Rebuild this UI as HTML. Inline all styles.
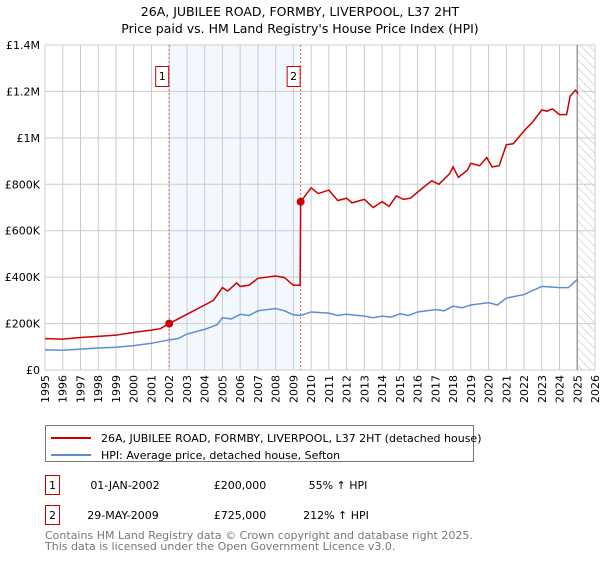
<!DOCTYPE html>
<html><head><meta charset="utf-8"><style>
body{margin:0;background:#fff;font-family:"Liberation Sans","DejaVu Sans",sans-serif;}
svg text{font-family:"DejaVu Sans","Liberation Sans",sans-serif;}
</style></head><body>
<svg id="c" width="600" height="560" xmlns="http://www.w3.org/2000/svg">
<text x="300" y="16" text-anchor="middle" font-size="12.5" fill="#000">26A, JUBILEE ROAD, FORMBY, LIVERPOOL, L37 2HT</text>
<text x="300" y="33" text-anchor="middle" font-size="12.5" fill="#000">Price paid vs. HM Land Registry's House Price Index (HPI)</text>
<g id="plot"></g>
<g>
<rect x="45.5" y="425.5" width="428" height="36" fill="#fff" stroke="#777"/>
<line x1="51" y1="438" x2="91" y2="438" stroke="#cc0000" stroke-width="2"/>
<text x="101" y="442" font-size="11">26A, JUBILEE ROAD, FORMBY, LIVERPOOL, L37 2HT (detached house)</text>
<line x1="51" y1="455" x2="91" y2="455" stroke="#5b8fd4" stroke-width="2"/>
<text x="101" y="459" font-size="11">HPI: Average price, detached house, Sefton</text>
</g>
<g>
<rect x="45.5" y="475.5" width="14" height="19" fill="#fff" stroke="#cc0000"/>
<text x="52.5" y="489" text-anchor="middle" font-size="11">1</text>
<text x="125" y="489" text-anchor="middle" font-size="11">01-JAN-2002</text>
<text x="240" y="489" text-anchor="middle" font-size="11">£200,000</text>
<text x="338" y="489" text-anchor="middle" font-size="11">55% ↑ HPI</text>
<rect x="45.5" y="505.5" width="14" height="19" fill="#fff" stroke="#cc0000"/>
<text x="52.5" y="519" text-anchor="middle" font-size="11">2</text>
<text x="123" y="519" text-anchor="middle" font-size="11">29-MAY-2009</text>
<text x="240" y="519" text-anchor="middle" font-size="11">£725,000</text>
<text x="336" y="519" text-anchor="middle" font-size="11">212% ↑ HPI</text>
</g>
<text x="45" y="539" font-size="11" fill="#777">Contains HM Land Registry data © Crown copyright and database right 2025.</text>
<text x="45" y="550" font-size="11" fill="#777">This data is licensed under the Open Government Licence v3.0.</text>
</svg>
<script>
const yTicks=[0,200000,400000,600000,800000,1000000,1200000,1400000];
const yTickLabels=["£0","£200K","£400K","£600K","£800K","£1M","£1.2M","£1.4M"];
const xYears=[1995,1996,1997,1998,1999,2000,2001,2002,2003,2004,2005,2006,2007,2008,2009,2010,2011,2012,2013,2014,2015,2016,2017,2018,2019,2020,2021,2022,2023,2024,2025,2026];
const hpiT=[1995,1996,1997,1998,1999,2000,2001,2002,2002.5,2003,2004,2004.7,2005,2005.5,2006,2006.5,2007,2008,2008.5,2009,2009.4,2010,2011,2011.5,2012,2013,2013.5,2014,2014.5,2015,2015.5,2016,2017,2017.5,2018,2018.5,2019,2020,2020.5,2021,2022,2023,2024,2024.5,2025];
const hpiV=[87000,85000,90000,95000,98000,105000,115000,130000,135000,155000,175000,195000,225000,220000,240000,235000,255000,265000,255000,238000,235000,250000,245000,235000,240000,232000,225000,232000,228000,242000,235000,250000,260000,255000,275000,268000,280000,290000,280000,310000,325000,360000,355000,355000,390000];
const propT=[1995,1996,1997,1998,1999,2000,2001,2001.5,2002,2003,2004,2004.5,2005,2005.3,2005.8,2006,2006.5,2007,2008,2008.5,2009,2009.38,2009.41,2010,2010.4,2011,2011.5,2012,2012.3,2013,2013.5,2014,2014.4,2014.8,2015.2,2015.6,2016.3,2016.8,2017.2,2017.8,2018,2018.3,2018.8,2019,2019.5,2019.9,2020.2,2020.6,2021,2021.4,2022,2022.5,2023,2023.3,2023.6,2024,2024.4,2024.6,2024.9,2025.05];
const propV=[135000,133000,140000,145000,150000,162000,172000,178000,200000,240000,280000,300000,355000,340000,375000,360000,365000,395000,405000,398000,365000,365000,725000,785000,760000,775000,730000,740000,720000,735000,700000,725000,705000,750000,735000,740000,785000,815000,800000,845000,875000,830000,860000,890000,880000,915000,875000,880000,970000,975000,1030000,1070000,1120000,1115000,1125000,1100000,1100000,1180000,1205000,1190000];
const saleT=[2002,2009.41];
const saleV=[200000,725000];
const saleLabels=["1","2"];

const L=45,R=595,T=45,B=370;
const xs=t=>L+(t-1995)/(2026-1995)*(R-L);
const ys=v=>B-v/1400000*(B-T);
const NS="http://www.w3.org/2000/svg";
const g=document.getElementById('plot');
function mk(tag,attrs,parent){const e=document.createElementNS(NS,tag);for(const k in attrs)e.setAttribute(k,attrs[k]);(parent||g).appendChild(e);return e;}

const sh=mk('rect',{x:xs(saleT[0]),y:T,width:xs(saleT[1])-xs(saleT[0]),height:B-T,fill:'#eef3fd',opacity:0.7});


const defs=mk('defs',{});
const pat=mk('pattern',{id:'h',width:6,height:6,patternUnits:'userSpaceOnUse',patternTransform:'rotate(-45)'},defs);
mk('line',{x1:0,y1:0,x2:0,y2:6,stroke:'#bbb','stroke-width':1},pat);
const hz=mk('rect',{x:xs(2025),y:T,width:R-xs(2025),height:B-T,fill:'url(#h)'});



xYears.forEach(y=>{
  const l=mk('line',{x1:xs(y),x2:xs(y),y1:T,y2:B,stroke:'#ccc','stroke-width':1});
  
  
  const tx=mk('text',{x:0,y:0,'font-size':11,'text-anchor':'end',transform:`translate(${xs(y)+4},${B+5}) rotate(-90)`});
  tx.textContent=y;
  
  
});
yTicks.forEach((v,i)=>{
  const l=mk('line',{x1:L,x2:R,y1:ys(v),y2:ys(v),stroke:'#ccc','stroke-width':1});
  
  
  const tx=mk('text',{x:L-5,y:ys(v)+4,'font-size':11,'text-anchor':'end'});
  tx.textContent=yTickLabels[i];
  
  
});
const fl=mk('line',{x1:xs(2025),x2:xs(2025),y1:T,y2:B,stroke:'#999','stroke-width':1.5});


saleT.forEach((t,i)=>{
  const l=mk('line',{x1:xs(t),x2:xs(t),y1:T,y2:B,stroke:'#e06060','stroke-width':1,'stroke-dasharray':'2,2'});
  
  
  const r=mk('rect',{x:xs(t)-13.5,y:66.5,width:13,height:20,fill:'#fff',stroke:'#cc0000'});
  
  
  const tx=mk('text',{x:xs(t)-7,y:80,'font-size':11,'text-anchor':'middle'});
  tx.textContent=saleLabels[i];
  
  
});
const hp=mk('polyline',{points:hpiT.map((t,i)=>xs(t)+','+ys(hpiV[i])).join(' '),fill:'none',stroke:'#5b8fd4','stroke-width':1.5});


const pp=mk('polyline',{points:propT.map((t,i)=>xs(t)+','+ys(propV[i])).join(' '),fill:'none',stroke:'#cc0000','stroke-width':1.5});


saleT.forEach((t,i)=>{
  const c=mk('circle',{cx:xs(t),cy:ys(saleV[i]),r:4,fill:'#cc0000'});
  
  
});
</script>
</body></html>
